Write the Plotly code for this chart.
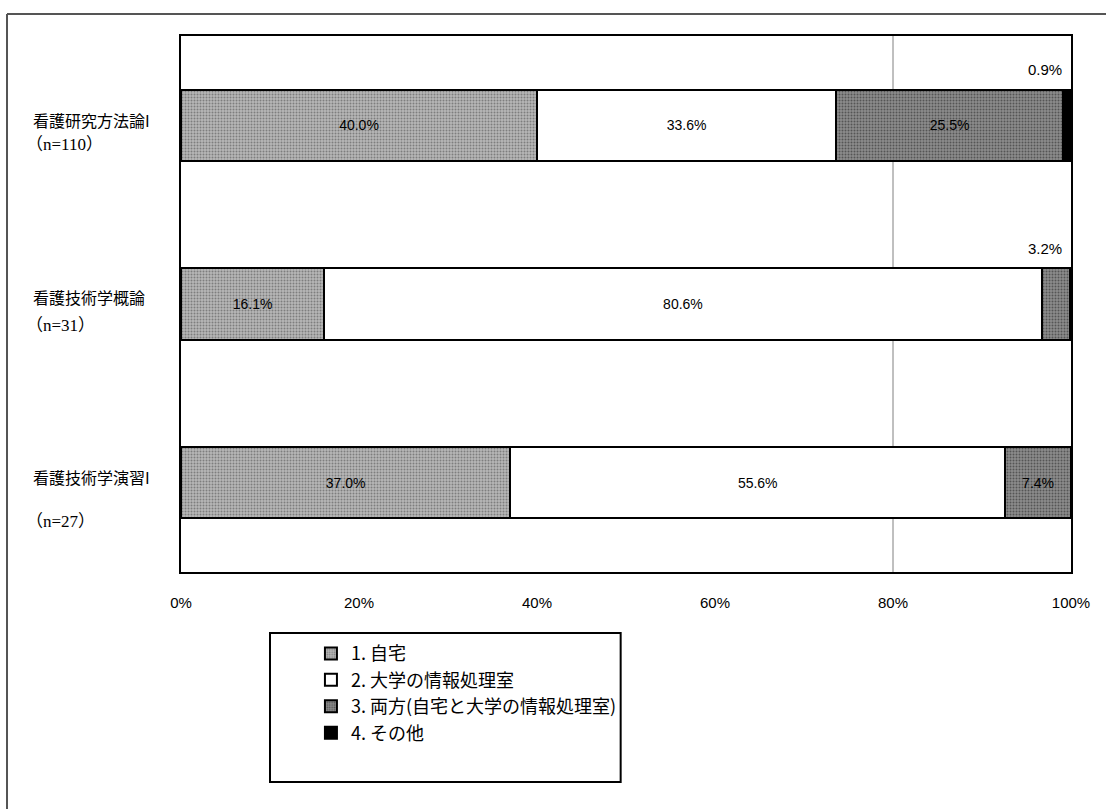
import plotly.graph_objects as go

# Courses (top to bottom) and their respondent counts
courses = ["看護研究方法論I", "看護技術学概論", "看護技術学演習I"]
counts = ["（n=110）", "（n=31）", "（n=27）"]

# Where the work was done, percent of respondents per course
series_names = ["1. 自宅", "2. 大学の情報処理室", "3. 両方(自宅と大学の情報処理室)", "4. その他"]
home = [40.0, 16.1, 37.0]
univ_lab = [33.6, 80.6, 55.6]
both = [25.5, 3.2, 7.4]
other = [0.9, 0.0, 0.0]

x_ticks = [0, 20, 40, 60, 80, 100]
x_tick_labels = [f"{t}%" for t in x_ticks]

series_values = [home, univ_lab, both, other]
fills = ["#b8b8b8", "#ffffff", "#8c8c8c", "#000000"]
dots = ["#7e7e7e", "#ffffff", "#555555", "#000000"]

NARROW = "Liberation Sans Narrow, Arial Narrow, Liberation Sans, Arial, sans-serif"
GOTHIC = "Noto Sans CJK JP, sans-serif"
SERIF = "Liberation Serif, Noto Sans CJK JP, serif"

fig = go.Figure()
for name, vals, fc, dc in zip(series_names, series_values, fills, dots):
    labels = [f"{v:.1f}%" if v >= 5 else "" for v in vals]
    pattern = dict(shape=".", size=3, solidity=0.35, fgcolor=dc, bgcolor=fc, fillmode="replace") \
        if fc not in ("#ffffff", "#000000") else None
    fig.add_trace(go.Bar(
        y=courses, x=vals, name=name, orientation="h",
        marker=dict(color=fc, line=dict(color="#000000", width=2),
                    pattern=pattern),
        text=labels, textposition="inside", insidetextanchor="middle",
        textfont=dict(family=NARROW, size=14, color="#000000"),
        hoverinfo="skip",
    ))

# Small segments get their value written above the bar, near the right edge
for i, c in enumerate(courses):
    for vals in series_values:
        v = vals[i]
        if 0 < v < 5:
            fig.add_annotation(x=99.2, y=i - 0.31, xref="x", yref="y",
                               text=f"{v:.1f}%", showarrow=False, xanchor="right",
                               font=dict(family=NARROW, size=15, color="#000000"))

# Two-line course labels on the left
name_dy = [-0.03, -0.04, -0.03]
count_dy = [0.11, 0.12, 0.22]
for i, (c, n) in enumerate(zip(courses, counts)):
    fig.add_annotation(x=-0.169, y=i + name_dy[i], xref="paper", yref="y", text=c,
                       showarrow=False, xanchor="left",
                       font=dict(family=GOTHIC, size=16, color="#000000"))
    fig.add_annotation(x=-0.176, y=i + count_dy[i], xref="paper", yref="y", text=n,
                       showarrow=False, xanchor="left",
                       font=dict(family=SERIF, size=17, color="#000000"))

# Single vertical gridline at 80%
fig.add_shape(type="line", x0=80, x1=80, y0=0, y1=1, xref="x", yref="paper",
              line=dict(color="#808080", width=1), layer="below")

# Outer frame (left and top edges)
fig.add_shape(type="line", x0=-0.1955, x1=-0.1955, y0=1.041, y1=-0.45, xref="paper", yref="paper",
              line=dict(color="#555555", width=2))
fig.add_shape(type="line", x0=-0.1955, x1=1.045, y0=1.041, y1=1.041, xref="paper", yref="paper",
              line=dict(color="#555555", width=2))

# Legend frame
fig.add_shape(type="rect", x0=0.1, x1=0.494, y0=-0.114, y1=-0.392, xref="paper", yref="paper",
              line=dict(color="#000000", width=2), fillcolor="rgba(0,0,0,0)")

fig.update_layout(
    width=1106, height=809,
    margin=dict(l=181, r=35, t=36, b=237),
    barmode="stack", bargap=0.6,
    plot_bgcolor="#ffffff", paper_bgcolor="#ffffff",
    showlegend=True,
    legend=dict(x=0.146, y=-0.118, xanchor="left", yanchor="top",
                traceorder="normal", bgcolor="rgba(0,0,0,0)",
                font=dict(family=GOTHIC, size=18, color="#000000"),
                itemwidth=30, tracegroupgap=0),
    xaxis=dict(range=[0, 100], tickvals=x_ticks, ticktext=x_tick_labels,
               showgrid=False, zeroline=False, ticks="", ticklabelstandoff=16,
               tickfont=dict(family=NARROW, size=15, color="#000000"),
               showline=True, mirror=True, linecolor="#000000", linewidth=2),
    yaxis=dict(categoryorder="array", categoryarray=courses, autorange="reversed",
               showticklabels=False, showgrid=False, zeroline=False, ticks="",
               showline=True, mirror=True, linecolor="#000000", linewidth=2),
)

fig.write_html("out.html")
